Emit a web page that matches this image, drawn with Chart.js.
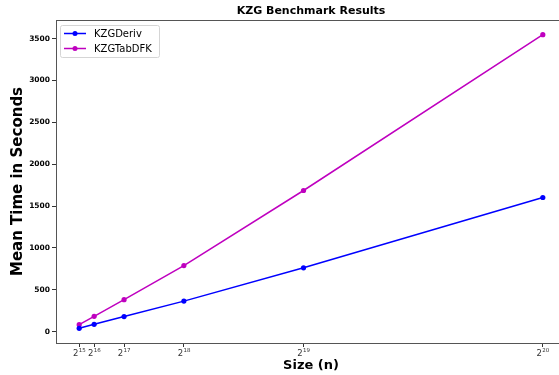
<!DOCTYPE html>
<html>
<head>
<meta charset="utf-8">
<script src="https://cdn.jsdelivr.net/npm/chart.js@4.4.1/dist/chart.umd.min.js"></script>
<style>
  body { margin: 0; overflow: hidden; background: #fff; }
  #wrap { width: 559px; height: 375px; overflow: hidden; }
</style>
</head>
<body>
<div id="wrap"><canvas id="myChart" width="570" height="375"></canvas></div>
<script>
// benchmark data
var sizes = [32768, 65536, 131072, 262144, 524288, 1048576]
var sizeExponents = ["15", "16", "17", "18", "19", "20"]
var derivTimes = [39, 87, 179, 364, 762, 1602]
var tabDfkTimes = [83, 182, 381, 789, 1686, 3548]
var yTicks = [0, 500, 1000, 1500, 2000, 2500, 3000, 3500]

function toPoints(xs, ys) {
    var pts = []
    for (var i = 0; i < xs.length; i++) {
        pts.push({ x: xs[i], y: ys[i] })
    }
    return pts
}

// title, axis titles, 2^n tick labels, frame and the in-plot legend
const decorations = {
    id: 'decorations',
    afterDraw(chart) {
        const ctx = chart.ctx
        const area = chart.chartArea
        const cx = (area.left + area.right) / 2
        ctx.save()
        ctx.strokeStyle = '#555'
        ctx.lineWidth = 1
        ctx.strokeRect(area.left + 0.5, area.top + 0.5, area.right - area.left, area.bottom - area.top)

        ctx.fillStyle = '#000'
        ctx.textAlign = 'center'
        ctx.textBaseline = 'middle'
        ctx.font = 'bold 11px "DejaVu Sans"'
        ctx.fillText('KZG Benchmark Results', cx, 11)
        ctx.font = 'bold 13px "DejaVu Sans"'
        ctx.fillText('Size (n)', cx, 366)
        ctx.save()
        ctx.translate(18, (area.top + area.bottom) / 2)
        ctx.rotate(-Math.PI / 2)
        ctx.font = 'bold 15px "DejaVu Sans"'
        ctx.fillText('Mean Time in Seconds', 0, 0)
        ctx.restore()

        // x tick labels as 2 with a raised exponent
        const xs = chart.scales.x
        ctx.fillStyle = '#333'
        ctx.textAlign = 'left'
        ctx.textBaseline = 'alphabetic'
        sizes.forEach(function (v, i) {
            const px = xs.getPixelForValue(v)
            ctx.font = '8.5px "DejaVu Sans"'
            const wBase = ctx.measureText('2').width
            ctx.font = '5.5px "DejaVu Sans"'
            const wExp = ctx.measureText(sizeExponents[i]).width
            const x0 = px - (wBase + wExp) / 2
            ctx.font = '8.5px "DejaVu Sans"'
            ctx.fillText('2', x0, area.bottom + 13)
            ctx.font = '5.5px "DejaVu Sans"'
            ctx.fillText(sizeExponents[i], x0 + wBase + 0.3, area.bottom + 9)
        })
        ctx.restore()

        // legend box
        ctx.save()
        const bx = area.left + 4, by = area.top + 5
        ctx.fillStyle = 'rgba(255,255,255,0.8)'
        ctx.strokeStyle = '#d5d5d5'
        ctx.lineWidth = 1
        ctx.beginPath()
        ctx.roundRect(bx + 0.5, by + 0.5, 99, 32, 2)
        ctx.fill()
        ctx.stroke()
        ctx.font = '10px "DejaVu Sans"'
        ctx.textAlign = 'left'
        ctx.textBaseline = 'middle'
        chart.data.datasets.forEach(function (ds, i) {
            const ly = by + 8.5 + i * 15
            ctx.strokeStyle = ds.borderColor
            ctx.lineWidth = 1.5
            ctx.beginPath()
            ctx.moveTo(bx + 4, ly)
            ctx.lineTo(bx + 26, ly)
            ctx.stroke()
            ctx.fillStyle = ds.borderColor
            ctx.beginPath()
            ctx.arc(bx + 15, ly, 2.5, 0, Math.PI * 2)
            ctx.fill()
            ctx.fillStyle = '#000'
            ctx.fillText(ds.label, bx + 34, ly + 0.5)
        })
        ctx.restore()
    }
}

const config = {
    type: 'line',
    data: {
        datasets: [{
            label: 'KZGDeriv',
            data: toPoints(sizes, derivTimes),
            borderColor: '#0000ff',
            backgroundColor: '#0000ff',
            borderWidth: 1.5,
            pointRadius: 2.6,
            pointBorderWidth: 0,
            tension: 0
        }, {
            label: 'KZGTabDFK',
            data: toPoints(sizes, tabDfkTimes),
            borderColor: '#bf00bf',
            backgroundColor: '#bf00bf',
            borderWidth: 1.5,
            pointRadius: 2.6,
            pointBorderWidth: 0,
            tension: 0
        }]
    },
    options: {
        responsive: false,
        animation: false,
        devicePixelRatio: 1,
        layout: { padding: { top: 20, left: 0, right: 0, bottom: 0 } },
        plugins: {
            legend: { display: false },
            title: { display: false },
            tooltip: { enabled: false }
        },
        scales: {
            x: {
                type: 'linear',
                min: -18022,
                max: 1099366,
                afterBuildTicks: function (scale) {
                    scale.ticks = sizes.map(v => ({ value: v }))
                },
                afterFit: function (scale) { scale.height = 32 },
                ticks: { display: false },
                grid: { drawOnChartArea: false, tickLength: 4, tickColor: '#333' },
                border: { color: '#555' }
            },
            y: {
                min: -136.5,
                max: 3723.5,
                afterBuildTicks: function (scale) {
                    scale.ticks = yTicks.map(v => ({ value: v }))
                },
                afterFit: function (scale) { scale.width = 56 },
                ticks: {
                    padding: 2,
                    color: '#000',
                    font: { family: 'DejaVu Sans', size: 7.5, weight: 'bold' },
                    callback: function (value) { return String(value) }
                },
                grid: { drawOnChartArea: false, tickLength: 4, tickColor: '#333' },
                border: { color: '#555' }
            }
        }
    },
    plugins: [decorations]
}

const myChart = new Chart(document.getElementById('myChart'), config)
</script>
</body>
</html>
